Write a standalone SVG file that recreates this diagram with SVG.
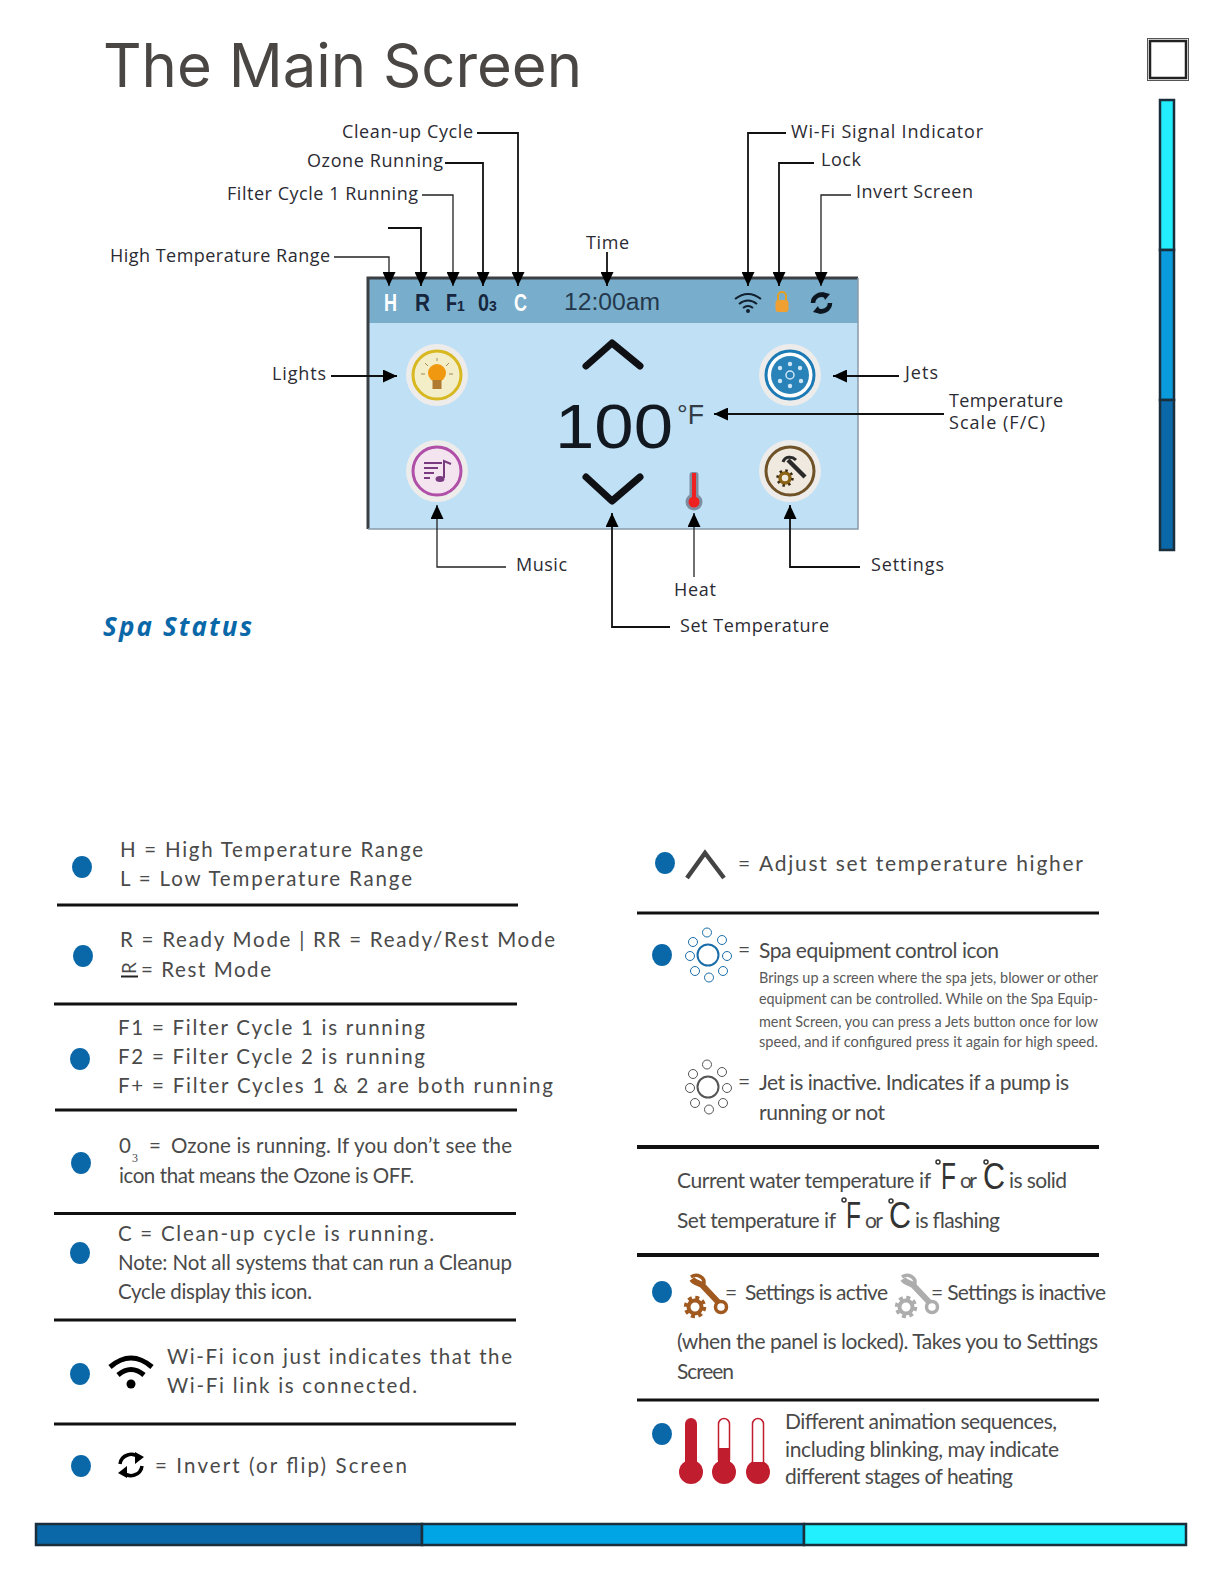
<svg xmlns="http://www.w3.org/2000/svg" xmlns:xlink="http://www.w3.org/1999/xlink" width="1224" height="1584" viewBox="0 0 1224 1584">
<style>
text{white-space:pre}
.lab{font-family:"Open Sans","Liberation Sans",sans-serif;font-size:18px;fill:#2b2b33}
.b{font-family:Lato,"Open Sans",sans-serif;font-size:20.5px;fill:#4a4a4a}
.m{font-family:Lato,"Open Sans",sans-serif;font-size:21px;fill:#4a4a4a}
.s{font-family:Lato,"Open Sans",sans-serif;font-size:16px;fill:#5a5a5a}
.big{font-family:"Liberation Sans",Arial,sans-serif;font-size:37px;fill:#333}
.st{font-family:"Liberation Sans",Arial,sans-serif;font-weight:700;font-size:23px}
.dot{fill:#0a68a8}
.rule{stroke:#111;stroke-width:3}
.c{fill:none;stroke:#222;stroke-width:1.3}
.c2{fill:none;stroke:#111;stroke-width:1.8}
.bd{stroke:#1a2e3c;stroke-width:2.5}
.th{fill:#c01e2e}
</style>
<defs>
<marker id="arr" markerWidth="14" markerHeight="13" refX="14" refY="6.5" orient="auto" markerUnits="userSpaceOnUse"><path d="M0 0L14 6.5L0 13Z" fill="#000"/></marker>
<g id="jet"><circle cx="0" cy="0" r="10.5" fill="none" stroke="currentColor" stroke-width="2"/><g fill="#fff" stroke="currentColor" stroke-width="1"><circle cx="-1" cy="-22.500" r="4.500"/><circle cx="14" cy="-15" r="4.500"/><circle cx="19" cy="1" r="4.500"/><circle cx="15" cy="16" r="4.500"/><circle cx="1" cy="22.500" r="4.500"/><circle cx="-13" cy="16" r="4.500"/><circle cx="-18" cy="1" r="4.500"/><circle cx="-15" cy="-13" r="4.500"/></g></g>
<g id="tool"><circle cx="0" cy="0" r="6.500" fill="none" stroke="currentColor" stroke-width="4"/><circle cx="0" cy="0" r="9.500" fill="none" stroke="currentColor" stroke-width="3.500" stroke-dasharray="4 3.460"/><path d="M-3 -28C-1 -25 3 -24 7 -22L24 -4" fill="none" stroke="currentColor" stroke-width="6"/><path d="M-4 -30C2 -34 10 -30 9 -23" fill="none" stroke="currentColor" stroke-width="3.500"/><circle cx="26" cy="0" r="5.500" fill="#fff" stroke="currentColor" stroke-width="3.500"/></g>
</defs>
<rect width="1224" height="1584" fill="#fff"/>
<g id="title"><text x="103" y="87" font-family="Inter,'Open Sans',sans-serif" font-size="60" fill="#4a4644" textLength="479" lengthAdjust="spacingAndGlyphs">The Main Screen</text></g>
<g id="corner-box"><rect x="1147.500" y="38.500" width="41" height="42" fill="#fff" stroke="#555" stroke-width="1"/><rect x="1150" y="41" width="36" height="37" fill="none" stroke="#222" stroke-width="2.500"/></g>
<g id="side-bar"><rect x="1160" y="100" width="14" height="150" fill="#22eeff" class="bd"/><rect x="1160" y="250" width="14" height="150" fill="#0a9bdc" class="bd"/><rect x="1160" y="400" width="14" height="150" fill="#0a68a8" class="bd"/></g>
<g id="bottom-bar"><rect x="36" y="1524" width="386" height="21" fill="#0a68a8" class="bd"/><rect x="422" y="1524" width="382" height="21" fill="#00a5e6" class="bd"/><rect x="804" y="1524" width="382" height="21" fill="#22f0ff" class="bd"/></g>

<g id="screen">
<rect x="368" y="278" width="490" height="251" fill="#bfe0f5"/>
<rect x="368" y="278" width="490" height="45" fill="#78adcb"/>
<path d="M368 529V278H858" fill="none" stroke="#3a3f44" stroke-width="3"/>
<path d="M368 529H858V278" fill="none" stroke="#8a9aa8" stroke-width="1.500"/>
<text x="384" y="311" class="st" fill="#fff" textLength="13" lengthAdjust="spacingAndGlyphs">H</text>
<text x="415" y="311" class="st" fill="#16263e" textLength="15" lengthAdjust="spacingAndGlyphs">R</text>
<text x="446" y="311" class="st" fill="#16263e" textLength="11" lengthAdjust="spacingAndGlyphs">F</text>
<text x="457" y="311" class="st" fill="#16263e" style="font-size:14px">1</text>
<text x="478" y="311" class="st" fill="#16263e" textLength="11" lengthAdjust="spacingAndGlyphs">0</text>
<text x="489" y="311" class="st" fill="#16263e" style="font-size:14px">3</text>
<text x="514" y="311" class="st" fill="#fff" textLength="13" lengthAdjust="spacingAndGlyphs">C</text>
<text x="564" y="310" font-family="'Liberation Sans',Arial,sans-serif" font-size="23" fill="#24384c" textLength="96" lengthAdjust="spacingAndGlyphs">12:00am</text>
<text x="555" y="448" font-family="'Liberation Sans',Arial,sans-serif" font-size="63" fill="#111820" textLength="118" lengthAdjust="spacingAndGlyphs">100</text>
<text x="677" y="424" font-family="'Liberation Sans',Arial,sans-serif" font-size="27" fill="#333c44" textLength="27" lengthAdjust="spacingAndGlyphs">°F</text>
<g id="screen-wifi" fill="none" stroke="#10202e" stroke-width="2"><path d="M735 299Q748 289 761 299"/><path d="M739 304Q748 297 757 304"/><path d="M743 308Q748 304 753 308"/><circle cx="748" cy="311" r="1" fill="#10202e"/></g>
<g id="screen-lock"><path d="M778 300V296A4 4 0 0 1 786 296V300" fill="none" stroke="#e8a020" stroke-width="2"/><rect x="775.500" y="300" width="13" height="12" rx="3" fill="#f0a030"/></g>
<g id="screen-invert" fill="none" stroke="#0c1620" stroke-width="4.500"><path d="M813 303A8.500 8.500 0 0 1 826 296"/><path d="M830 303A8.500 8.500 0 0 1 817 310"/><path d="M822 292L830 294L825 300Z" fill="#0c1620" stroke="none"/><path d="M821 314L813 312L818 306Z" fill="#0c1620" stroke="none"/></g>
<g fill="none" stroke="#0e1014" stroke-width="7" stroke-linecap="round" stroke-linejoin="round"><path d="M586 366L612 343L640 366"/><path d="M586 477L612 501L640 477"/></g>
<g id="screen-heat"><circle cx="694" cy="502" r="8.500" fill="#7f8da0"/><rect x="689.500" y="472" width="9" height="30" rx="3" fill="#7f8da0"/><circle cx="694" cy="502" r="5.500" fill="#ef2020"/><rect x="692" y="473" width="4" height="28" fill="#ef2020"/></g>
</g>

<g id="btn-lights"><circle cx="437" cy="375" r="31" fill="#edeceb"/><circle cx="437" cy="375" r="24" fill="#f3edc8" stroke="#d8b820" stroke-width="3"/><circle cx="437" cy="373" r="9" fill="#f0980f"/><rect x="432.500" y="380" width="9" height="9" fill="#b07a30"/><g stroke="#a08a50" stroke-width="1"><path d="M437 358v3M425 363l3 3M449 363l-3 3M421 374h4M453 374h-4"/></g></g>
<g id="btn-music"><circle cx="437" cy="471" r="31" fill="#edeceb"/><circle cx="437" cy="471" r="24" fill="#f3e4f0" stroke="#b04fa8" stroke-width="3"/><g stroke="#7a3a80" stroke-width="2"><path d="M424 463h18M424 468h14M424 473h10M424 478h6"/></g><path d="M444 478V461L451 464" fill="none" stroke="#7a3a80" stroke-width="2"/><ellipse cx="440" cy="479" rx="4.500" ry="3" fill="#7a3a80"/></g>
<g id="btn-jets"><circle cx="790" cy="375" r="31" fill="#edeceb"/><circle cx="790" cy="375" r="24" fill="#fff" stroke="#1c7ab4" stroke-width="3"/><circle cx="790" cy="375" r="19" fill="#2a83b8"/><circle cx="790" cy="375" r="4" fill="none" stroke="#cfe6f4" stroke-width="1.500"/><g fill="#cfe6f4"><circle cx="790" cy="364" r="2.200"/><circle cx="800" cy="368" r="2.200"/><circle cx="801" cy="381" r="2.200"/><circle cx="790" cy="386" r="2.200"/><circle cx="780" cy="381" r="2.200"/><circle cx="780" cy="368" r="2.200"/></g></g>
<g id="btn-settings"><circle cx="790" cy="471" r="31" fill="#edeceb"/><circle cx="790" cy="471" r="24" fill="#efe9e0" stroke="#6f5228" stroke-width="3"/><path d="M788 460L805 477" stroke="#2a2a2a" stroke-width="4.500" fill="none"/><path d="M783 462C785 456 792 456 796 460" stroke="#2a2a2a" stroke-width="3" fill="none"/><circle cx="785" cy="478" r="5" fill="none" stroke="#8a6414" stroke-width="3.500"/><circle cx="785" cy="478" r="7.500" fill="none" stroke="#3a2a10" stroke-width="2.500" stroke-dasharray="2.500 3.400"/></g>

<g id="connectors">
<path class="c2" d="M477 133H518V286" marker-end="url(#arr)"/>
<path class="c2" d="M445 163H483V286" marker-end="url(#arr)"/>
<path class="c" d="M422 195H453V286" marker-end="url(#arr)"/>
<path class="c2" d="M388 228H421V286" marker-end="url(#arr)"/>
<path class="c" d="M334 257H389V286" marker-end="url(#arr)"/>
<path class="c2" d="M607 252V286" marker-end="url(#arr)"/>
<path class="c2" d="M786 133H748V286" marker-end="url(#arr)"/>
<path class="c2" d="M814 163H779V286" marker-end="url(#arr)"/>
<path class="c" d="M851 195H821V286" marker-end="url(#arr)"/>
<path class="c2" d="M331 376H397" marker-end="url(#arr)"/>
<path class="c2" d="M899 376H833" marker-end="url(#arr)"/>
<path class="c2" d="M944 414H714" marker-end="url(#arr)"/>
<path class="c" d="M506 567H437V505" marker-end="url(#arr)"/>
<path class="c2" d="M860 567H790V505" marker-end="url(#arr)"/>
<path class="c" d="M694 577V513" marker-end="url(#arr)"/>
<path class="c2" d="M670 627H612V513" marker-end="url(#arr)"/>
</g>

<g id="labels">
<text class="lab" x="342" y="138" textLength="131">Clean-up Cycle</text>
<text class="lab" x="307" y="167" textLength="136">Ozone Running</text>
<text class="lab" x="227" y="200" textLength="191">Filter Cycle 1 Running</text>
<text class="lab" x="110" y="262" textLength="220">High Temperature Range</text>
<text class="lab" x="586" y="249" textLength="43">Time</text>
<text class="lab" x="791" y="138" textLength="192">Wi-Fi Signal Indicator</text>
<text class="lab" x="821" y="166" textLength="40">Lock</text>
<text class="lab" x="856" y="198" textLength="117">Invert Screen</text>
<text class="lab" x="272" y="380" textLength="54">Lights</text>
<text class="lab" x="905" y="379" textLength="33">Jets</text>
<text class="lab" x="949" y="407" textLength="114">Temperature</text>
<text class="lab" x="949" y="429" textLength="96">Scale (F/C)</text>
<text class="lab" x="516" y="571" textLength="51">Music</text>
<text class="lab" x="871" y="571" textLength="73">Settings</text>
<text class="lab" x="674" y="596" textLength="42">Heat</text>
<text class="lab" x="680" y="632" textLength="149">Set Temperature</text>
<text x="103" y="636" font-family="'Open Sans','Liberation Sans',sans-serif" font-size="26" font-weight="700" font-style="italic" fill="#0a68a8" textLength="149">Spa Status</text>
</g>

<g id="row-range"><ellipse class="dot" cx="82" cy="867" rx="10" ry="11"/>
<text class="b" x="120" y="857" textLength="303">H = High Temperature Range</text>
<text class="b" x="120" y="886" textLength="292">L = Low Temperature Range</text>
<path class="rule" d="M57 905H518"/></g>
<g id="row-mode"><ellipse class="dot" cx="83" cy="956" rx="10" ry="11"/>
<text class="b" x="120" y="947" textLength="435">R = Ready Mode | RR = Ready/Rest Mode</text>
<text class="b" transform="translate(136 974) rotate(-90)" style="font-size:19px">R</text>
<path d="M121 976.500H138" stroke="#222" stroke-width="2"/>
<text class="b" x="141" y="977" textLength="130">= Rest Mode</text>
<path class="rule" d="M54 1004H517"/></g>
<g id="row-filter"><ellipse class="dot" cx="80" cy="1059" rx="10" ry="11"/>
<text class="b" x="118" y="1035" textLength="307">F1 = Filter Cycle 1 is running</text>
<text class="b" x="118" y="1064" textLength="307">F2 = Filter Cycle 2 is running</text>
<text class="b" x="118" y="1093" textLength="435">F+ = Filter Cycles 1 &amp; 2 are both running</text>
<path class="rule" d="M55 1110H517"/></g>
<g id="row-ozone"><ellipse class="dot" cx="81" cy="1163" rx="10" ry="11"/>
<text class="b" x="119" y="1153">0</text>
<text x="132" y="1162" font-family="'Liberation Serif',serif" font-size="12" fill="#4a4a4a">3</text>
<text class="b" x="149" y="1153">=</text>
<text class="b" x="171" y="1153" textLength="341">Ozone is running. If you don’t see the</text>
<text class="b" x="119" y="1183" textLength="295">icon that means the Ozone is OFF.</text>
<path class="rule" d="M54 1213.500H516"/></g>
<g id="row-cleanup"><ellipse class="dot" cx="80" cy="1253" rx="10" ry="11"/>
<text class="b" x="118" y="1241" textLength="316">C = Clean-up cycle is running.</text>
<text class="b" x="118" y="1270" textLength="394">Note: Not all systems that can run a Cleanup</text>
<text class="b" x="118" y="1299" textLength="194">Cycle display this icon.</text>
<path class="rule" d="M54 1320H516"/></g>
<g id="row-wifi"><ellipse class="dot" cx="80" cy="1374" rx="10" ry="11"/>
<g fill="none" stroke="#000" stroke-width="5"><path d="M110 1367Q131 1349 152 1367"/><path d="M118 1375Q131 1364 144 1375"/></g><circle cx="131" cy="1384" r="4.500" fill="#000"/>
<text class="b" x="167" y="1364" textLength="345">Wi-Fi icon just indicates that the</text>
<text class="b" x="167" y="1393" textLength="250">Wi-Fi link is connected.</text>
<path class="rule" d="M54 1424H516"/></g>
<g id="row-invert"><ellipse class="dot" cx="81" cy="1466" rx="10" ry="11"/>
<g fill="none" stroke="#000" stroke-width="3.500"><path d="M120 1464A11 11 0 0 1 139 1458"/><path d="M142 1466A11 11 0 0 1 123 1472"/></g><path d="M135 1452L144 1457L135 1464Z M127 1478L118 1473L127 1466Z" fill="#000"/>
<text class="b" x="155" y="1473" textLength="252">= Invert (or flip) Screen</text></g>

<g id="row-up"><ellipse class="dot" cx="665" cy="863" rx="10" ry="11"/>
<path d="M687 878L705 853L724 878" fill="none" stroke="#444" stroke-width="4.500"/>
<text class="m" x="738" y="871">=</text>
<text class="m" x="759" y="871" textLength="324">Adjust set temperature higher</text>
<path class="rule" d="M637 913H1099"/></g>
<g id="row-jets"><ellipse class="dot" cx="662" cy="955" rx="10" ry="11"/>
<use href="#jet" x="708" y="955" style="color:#1a6ea8"/>
<text class="m" x="738" y="957">=</text>
<text class="m" x="759" y="958" textLength="240">Spa equipment control icon</text>
<text class="s" x="759" y="983" textLength="339" lengthAdjust="spacingAndGlyphs">Brings up a screen where the spa jets, blower or other</text>
<text class="s" x="759" y="1004" textLength="339" lengthAdjust="spacingAndGlyphs">equipment can be controlled. While on the Spa Equip-</text>
<text class="s" x="759" y="1027" textLength="339" lengthAdjust="spacingAndGlyphs">ment Screen, you can press a Jets button once for low</text>
<text class="s" x="759" y="1047" textLength="339" lengthAdjust="spacingAndGlyphs">speed, and if configured press it again for high speed.</text>
<use href="#jet" x="708" y="1087" style="color:#555"/>
<text class="m" x="738" y="1089">=</text>
<text class="m" x="759" y="1090" textLength="310">Jet is inactive. Indicates if a pump is</text>
<text class="m" x="759" y="1120" textLength="126">running or not</text>
<path d="M637 1147H1099" stroke="#111" stroke-width="4"/></g>
<g id="row-temp">
<text class="m" x="677" y="1188" textLength="254">Current water temperature if</text>
<text class="big" transform="translate(941 1189) scale(.66 1)">F</text><circle cx="938" cy="1162" r="2" fill="none" stroke="#333" stroke-width="1.500"/>
<text class="m" x="960" y="1188" textLength="17">or</text>
<text class="big" x="983" y="1189" textLength="22" lengthAdjust="spacingAndGlyphs">C</text><circle cx="986" cy="1162" r="2" fill="none" stroke="#333" stroke-width="1.500"/>
<text class="m" x="1009" y="1188" textLength="58">is solid</text>
<text class="m" x="677" y="1228" textLength="159">Set temperature if</text>
<text class="big" transform="translate(846 1228) scale(.66 1)">F</text><circle cx="844" cy="1200" r="2" fill="none" stroke="#333" stroke-width="1.500"/>
<text class="m" x="865" y="1228" textLength="18">or</text>
<text class="big" x="889" y="1228" textLength="22" lengthAdjust="spacingAndGlyphs">C</text><circle cx="891" cy="1201" r="2" fill="none" stroke="#333" stroke-width="1.500"/>
<text class="m" x="915" y="1228" textLength="85">is flashing</text>
<path d="M637 1255H1099" stroke="#111" stroke-width="4"/></g>
<g id="row-settings"><ellipse class="dot" cx="662" cy="1292" rx="10" ry="11"/>
<use href="#tool" x="695" y="1307" style="color:#a0591f"/>
<text class="m" x="725" y="1300">=</text>
<text class="m" x="745" y="1300" textLength="143">Settings is active</text>
<use href="#tool" x="906" y="1307" style="color:#adadad"/>
<text class="m" x="931" y="1300" textLength="175">= Settings is inactive</text>
<text class="m" x="677" y="1349" textLength="421">(when the panel is locked). Takes you to Settings</text>
<text class="m" x="677" y="1379" textLength="57">Screen</text>
<path class="rule" d="M637 1400H1099"/></g>
<g id="row-heat"><ellipse class="dot" cx="662" cy="1434" rx="10" ry="11"/>
<circle class="th" cx="691" cy="1472" r="12"/><rect class="th" x="685" y="1418" width="12" height="50" rx="6"/>
<circle class="th" cx="724" cy="1472" r="12"/><path d="M718.500 1460V1424A5.500 5.500 0 0 1 729.500 1424V1460" fill="#fff" stroke="#c01e2e" stroke-width="1.500"/><rect class="th" x="718" y="1448" width="12" height="20"/>
<circle class="th" cx="758" cy="1472" r="12"/><path d="M752.500 1462V1424A5.500 5.500 0 0 1 763.500 1424V1462" fill="#fff" stroke="#c01e2e" stroke-width="1.500"/>
<text class="m" x="785" y="1429" textLength="272">Different animation sequences,</text>
<text class="m" x="785" y="1457" textLength="274">including blinking, may indicate</text>
<text class="m" x="785" y="1484" textLength="228">different stages of heating</text></g>
</svg>
